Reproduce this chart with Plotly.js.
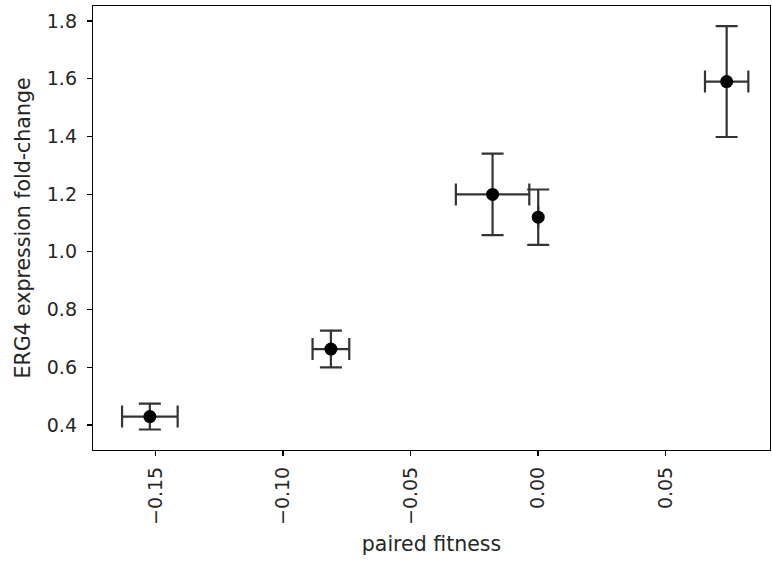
<!DOCTYPE html>
<html>
<head>
<meta charset="utf-8">
<script src="https://cdn.plot.ly/plotly-3.0.1.min.js"></script>
<style>html,body{margin:0;padding:0;background:#fff;}#chart{width:772px;height:561px;}</style>
</head>
<body>
<div id="chart"></div>
<script>
const fitness = [-0.1522, -0.0812, -0.0178, 0.0001, 0.0740];
const fitnessErr = [0.0109, 0.0072, 0.0144, 0.0, 0.0085];
const foldChange = [0.429, 0.663, 1.199, 1.120, 1.590];
const foldChangeErr = [0.045, 0.0635, 0.1415, 0.096, 0.192];
const xTicks = [-0.15, -0.10, -0.05, 0.00, 0.05];
const xTickText = ['\u22120.15', '\u22120.10', '\u22120.05', '0.00', '0.05'];
const yTicks = [0.4, 0.6, 0.8, 1.0, 1.2, 1.4, 1.6, 1.8];
const yTickText = ['0.4', '0.6', '0.8', '1.0', '1.2', '1.4', '1.6', '1.8'];

const errStyle = {color: '#333333', thickness: 2.2, width: 11};
const trace = {
  x: fitness, y: foldChange, type: 'scatter', mode: 'markers',
  marker: {color: '#000000', size: 13},
  error_x: Object.assign({type: 'data', array: fitnessErr, visible: true}, errStyle),
  error_y: Object.assign({type: 'data', array: foldChangeErr, visible: true}, errStyle),
  hoverinfo: 'none'
};
const font = {family: 'DejaVu Sans', size: 19, color: '#262626'};
const titleFont = {family: 'DejaVu Sans', size: 20.5, color: '#262626'};
const layout = {
  width: 772, height: 561,
  margin: {l: 93, r: 2, t: 6, b: 111, pad: 0},
  paper_bgcolor: '#fff', plot_bgcolor: '#fff',
  font: font,
  showlegend: false,
  xaxis: {
    range: [-0.1745, 0.091],
    tickvals: xTicks, ticktext: xTickText, tickangle: -90,
    ticks: 'outside', ticklen: 5, tickwidth: 1.2, tickcolor: '#000',
    ticklabelstandoff: 3,
    showgrid: false, zeroline: false,
    showline: true, linecolor: '#000', linewidth: 1.2, mirror: true,
    tickfont: font,
    title: {text: 'paired fitness', font: titleFont, standoff: 12}
  },
  yaxis: {
    range: [0.313, 1.852],
    tickvals: yTicks, ticktext: yTickText,
    ticks: 'outside', ticklen: 5, tickwidth: 1.2, tickcolor: '#000',
    ticklabelstandoff: 6,
    showgrid: false, zeroline: false,
    showline: true, linecolor: '#000', linewidth: 1.2, mirror: true,
    tickfont: font,
    title: {text: 'ERG4 expression fold-change', font: titleFont, standoff: 10}
  }
};
Plotly.newPlot('chart', [trace], layout, {displayModeBar: false, staticPlot: true});
</script>
</body>
</html>
